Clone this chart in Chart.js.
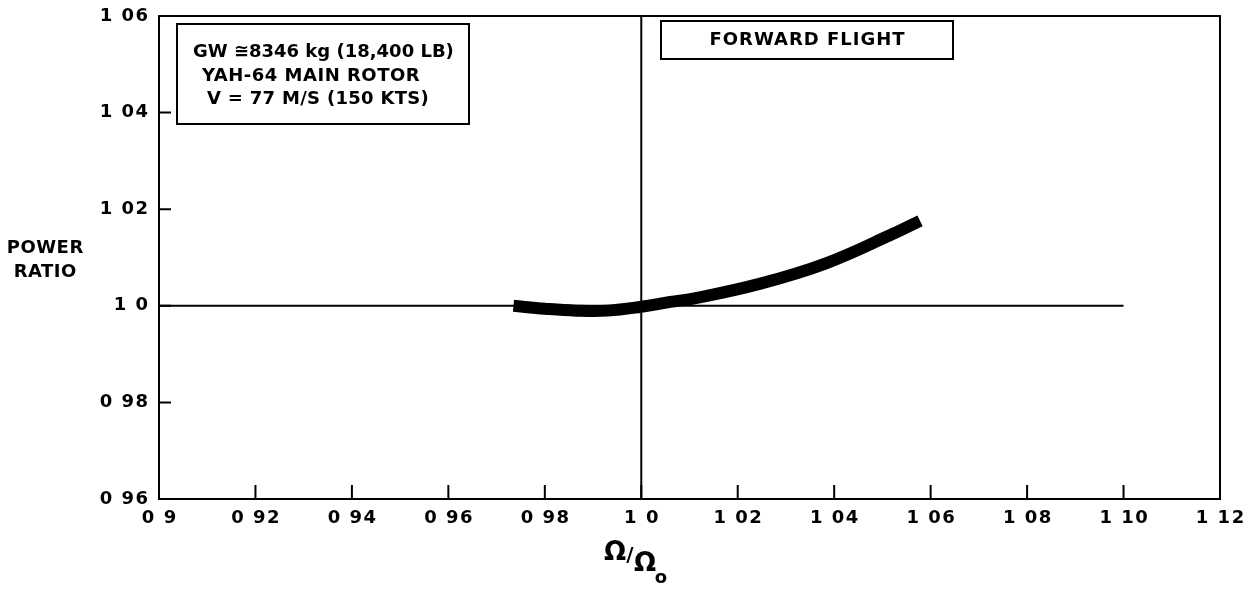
<!DOCTYPE html>
<html>
<head>
<meta charset="utf-8">
<title>Power Ratio - Forward Flight</title>
<script src="https://cdn.jsdelivr.net/npm/chart.js@4.4.0/dist/chart.umd.min.js"></script>
<style>
  html, body { margin: 0; padding: 0; background: #fff; }
  #wrap { width: 1256px; height: 595px; }
</style>
</head>
<body>
<div id="wrap"><canvas id="myChart" width="1256" height="595"></canvas></div>
<script>
/////////////////////////////
// Data
/////////////////////////////

// rotor speed ratio (Omega / Omega_0) along the curve
const speedRatio = [0.9735, 0.980, 0.9865, 0.993, 1.000, 1.006, 1.0108, 1.0247, 1.0383, 1.0522, 1.0578];
// power ratio
const powerRatio = [1.0000, 0.9994, 0.9990, 0.9990, 0.9998, 1.0008, 1.0015, 1.0046, 1.0088, 1.0149, 1.0176];

// reference lines
const refPowerX = [0.90, 1.10];   // horizontal line at power ratio 1.0
const refSpeedY = [0.96, 1.06];   // vertical line at speed ratio 1.0

// axis ticks
const xTicks = [0.90, 0.92, 0.94, 0.96, 0.98, 1.00, 1.02, 1.04, 1.06, 1.08, 1.10, 1.12];
const xTickLabels = ['0 9', '0 92', '0 94', '0 96', '0 98', '1 0', '1 02', '1 04', '1 06', '1 08', '1 10', '1 12'];
const yTicks = [0.96, 0.98, 1.00, 1.02, 1.04, 1.06];
const yTickLabels = ['0 96', '0 98', '1 0', '1 02', '1 04', '1 06'];

// notes
const infoLines = ['GW \u22458346 kg (18,400 LB)', 'YAH-64 MAIN ROTOR', 'V = 77 M/S (150 KTS)'];
const flightLabel = 'FORWARD FLIGHT';

/////////////////////////////
// Helpers
/////////////////////////////

const FONT = 'bold 18px "DejaVu Sans", sans-serif';

function spacedText(ctx, text, x, y, align, spacing) {
  if (spacing === undefined) spacing = 1;
  ctx.save();
  ctx.letterSpacing = spacing + 'px';
  const w = ctx.measureText(text).width - spacing;
  let sx = x;
  if (align === 'center') sx = x - w / 2;
  else if (align === 'right') sx = x - w;
  ctx.textAlign = 'left';
  ctx.fillText(text, sx, y);
  ctx.restore();
}

/////////////////////////////
// Plugin | frame, ticks, labels, notes
/////////////////////////////

const framePlugin = {
  id: 'frame',
  afterDatasetsDraw(chart) {
    const ctx = chart.ctx;
    const area = chart.chartArea;
    const xs = chart.scales.x;
    const ys = chart.scales.y;

    ctx.save();
    ctx.strokeStyle = '#000';
    ctx.fillStyle = '#000';
    ctx.lineWidth = 2;
    ctx.strokeRect(area.left, area.top, area.right - area.left, area.bottom - area.top);

    // inward ticks
    ctx.beginPath();
    xTicks.forEach(v => {
      const px = xs.getPixelForValue(v);
      ctx.moveTo(px, area.bottom);
      ctx.lineTo(px, area.bottom - 14);
    });
    yTicks.forEach(v => {
      const py = ys.getPixelForValue(v);
      ctx.moveTo(area.left, py);
      ctx.lineTo(area.left + 12, py);
    });
    ctx.stroke();

    // tick labels
    ctx.font = FONT;
    ctx.textBaseline = 'middle';
    xTicks.forEach((v, i) => {
      spacedText(ctx, xTickLabels[i], xs.getPixelForValue(v), area.bottom + 19, 'center', 1.5);
    });
    yTicks.forEach((v, i) => {
      spacedText(ctx, yTickLabels[i], area.left - 11, ys.getPixelForValue(v), 'right', 1.5);
    });

    // y title
    spacedText(ctx, 'POWER', 45, 248, 'center', 0.5);
    spacedText(ctx, 'RATIO', 45, 272, 'center', 0.5);

    // x title  Omega / Omega_o
    ctx.font = 'bold 26px "DejaVu Sans", sans-serif';
    ctx.textAlign = 'center';
    ctx.fillText('\u03A9', 615, 553);
    ctx.font = 'bold 20px "DejaVu Sans", sans-serif';
    ctx.fillText('/', 630, 556);
    ctx.font = 'bold 26px "DejaVu Sans", sans-serif';
    ctx.fillText('\u03A9', 645, 564);
    ctx.font = 'bold 18px "DejaVu Sans", sans-serif';
    ctx.fillText('o', 661, 578);

    // info box
    ctx.lineWidth = 2;
    ctx.strokeRect(177, 24, 292, 100);
    ctx.font = FONT;
    spacedText(ctx, infoLines[0], 193, 52, 'left', 0);
    spacedText(ctx, infoLines[1], 202, 76, 'left', 0.5);
    spacedText(ctx, infoLines[2], 207, 99, 'left', 0.3);

    // forward flight box
    ctx.strokeRect(661, 21, 292, 38);
    spacedText(ctx, flightLabel, 807, 40, 'center', 1);

    ctx.restore();
  }
};

/////////////////////////////
// Chart
/////////////////////////////

const ctx = document.getElementById('myChart').getContext('2d');
const myChart = new Chart(ctx, {
  type: 'scatter',
  data: {
    datasets: [
      {
        label: 'ref horizontal',
        data: refPowerX.map(x => ({ x: x, y: 1.0 })),
        showLine: true,
        borderColor: '#000',
        borderWidth: 2,
        pointRadius: 0
      },
      {
        label: 'ref vertical',
        data: refSpeedY.map(y => ({ x: 1.0, y: y })),
        showLine: true,
        borderColor: '#000',
        borderWidth: 2,
        pointRadius: 0
      },
      {
        label: 'power ratio',
        data: speedRatio.map((x, i) => ({ x: x, y: powerRatio[i] })),
        showLine: true,
        borderColor: '#000',
        borderWidth: 12,
        borderCapStyle: 'butt',
        tension: 0.4,
        pointRadius: 0
      }
    ]
  },
  options: {
    responsive: false,
    animation: false,
    layout: { padding: { left: 159, right: 36, top: 16, bottom: 96 } },
    plugins: {
      legend: { display: false },
      tooltip: { enabled: false }
    },
    scales: {
      x: { type: 'linear', min: 0.90, max: 1.12, display: false },
      y: { type: 'linear', min: 0.96, max: 1.06, display: false }
    }
  },
  plugins: [framePlugin]
});
</script>
</body>
</html>
